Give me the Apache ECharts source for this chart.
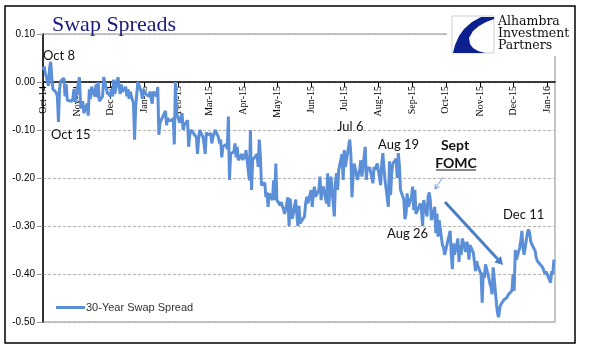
<!DOCTYPE html>
<html><head><meta charset="utf-8">
<script src="https://cdn.jsdelivr.net/npm/echarts@6/dist/echarts.min.js"></script>
<style>html,body{margin:0;padding:0;background:#fff}#c{width:598px;height:361px}</style>
</head><body><div id="c"></div>
<script>
const tickDates = ['2014-10-01','2014-11-01','2014-12-01','2015-01-01','2015-02-01','2015-03-01','2015-04-01','2015-05-01','2015-06-01','2015-07-01','2015-08-01','2015-09-01','2015-10-01','2015-11-01','2015-12-01','2016-01-01'];
const tickLabels = ['Oct-14','Nov-14','Dec-14','Jan-15','Feb-15','Mar-15','Apr-15','May-15','Jun-15','Jul-15','Aug-15','Sep-15','Oct-15','Nov-15','Dec-15','Jan-16'];
const yTicks = [-0.5,-0.4,-0.3,-0.2,-0.1,0,0.1];

const dates = [
'2014-10-01','2014-10-02','2014-10-03','2014-10-06','2014-10-07','2014-10-08','2014-10-09','2014-10-10','2014-10-13','2014-10-14','2014-10-15','2014-10-16','2014-10-17','2014-10-20','2014-10-21','2014-10-22','2014-10-23','2014-10-24','2014-10-27','2014-10-28','2014-10-29','2014-10-30','2014-10-31',
'2014-11-03','2014-11-04','2014-11-05','2014-11-06','2014-11-07','2014-11-10','2014-11-11','2014-11-12','2014-11-13','2014-11-14','2014-11-17','2014-11-18','2014-11-19','2014-11-20','2014-11-21','2014-11-24','2014-11-25','2014-11-26','2014-11-28',
'2014-12-01','2014-12-02','2014-12-03','2014-12-04','2014-12-05','2014-12-08','2014-12-09','2014-12-10','2014-12-11','2014-12-12','2014-12-15','2014-12-16','2014-12-17','2014-12-18','2014-12-19','2014-12-22','2014-12-23','2014-12-24','2014-12-26','2014-12-29','2014-12-30','2014-12-31',
'2015-01-02','2015-01-05','2015-01-06','2015-01-07','2015-01-08','2015-01-09','2015-01-12','2015-01-13','2015-01-14','2015-01-15','2015-01-16','2015-01-20','2015-01-21','2015-01-22','2015-01-23','2015-01-26','2015-01-27','2015-01-28','2015-01-29','2015-01-30',
'2015-02-02','2015-02-03','2015-02-04','2015-02-05','2015-02-06','2015-02-09','2015-02-10','2015-02-11','2015-02-12','2015-02-13','2015-02-17','2015-02-18','2015-02-19','2015-02-20','2015-02-23','2015-02-24','2015-02-25','2015-02-26','2015-02-27',
'2015-03-02','2015-03-03','2015-03-04','2015-03-05','2015-03-06','2015-03-09','2015-03-10','2015-03-11','2015-03-12','2015-03-13','2015-03-16','2015-03-17','2015-03-18','2015-03-19','2015-03-20','2015-03-23','2015-03-24','2015-03-25','2015-03-26','2015-03-27','2015-03-30','2015-03-31',
'2015-04-01','2015-04-02','2015-04-03','2015-04-06','2015-04-07','2015-04-08','2015-04-09','2015-04-10','2015-04-13','2015-04-14','2015-04-15','2015-04-16','2015-04-17','2015-04-20','2015-04-21','2015-04-22','2015-04-23','2015-04-24','2015-04-27','2015-04-28','2015-04-29','2015-04-30',
'2015-05-01','2015-05-04','2015-05-05','2015-05-06','2015-05-07','2015-05-08','2015-05-11','2015-05-12','2015-05-13','2015-05-14','2015-05-15','2015-05-18','2015-05-19','2015-05-20','2015-05-21','2015-05-22','2015-05-26','2015-05-27','2015-05-28','2015-05-29',
'2015-06-01','2015-06-02','2015-06-03','2015-06-04','2015-06-05','2015-06-08','2015-06-09','2015-06-10','2015-06-11','2015-06-12','2015-06-15','2015-06-16','2015-06-17','2015-06-18','2015-06-19','2015-06-22','2015-06-23','2015-06-24','2015-06-25','2015-06-26','2015-06-29','2015-06-30',
'2015-07-01','2015-07-02','2015-07-06','2015-07-07','2015-07-08','2015-07-09','2015-07-10','2015-07-13','2015-07-14','2015-07-15','2015-07-16','2015-07-17','2015-07-20','2015-07-21','2015-07-22','2015-07-23','2015-07-24','2015-07-27','2015-07-28','2015-07-29','2015-07-30','2015-07-31',
'2015-08-03','2015-08-04','2015-08-05','2015-08-06','2015-08-07','2015-08-10','2015-08-11','2015-08-12','2015-08-13','2015-08-14','2015-08-17','2015-08-18','2015-08-19','2015-08-20','2015-08-21','2015-08-24','2015-08-25','2015-08-26','2015-08-27','2015-08-28','2015-08-31',
'2015-09-01','2015-09-02','2015-09-03','2015-09-04','2015-09-08','2015-09-09','2015-09-10','2015-09-11','2015-09-14','2015-09-15','2015-09-16','2015-09-17','2015-09-18','2015-09-21','2015-09-22','2015-09-23','2015-09-24','2015-09-25','2015-09-28','2015-09-29','2015-09-30',
'2015-10-01','2015-10-02','2015-10-05','2015-10-06','2015-10-07','2015-10-08','2015-10-09','2015-10-12','2015-10-13','2015-10-14','2015-10-15','2015-10-16','2015-10-19','2015-10-20','2015-10-21','2015-10-22','2015-10-23','2015-10-26','2015-10-27','2015-10-28','2015-10-29','2015-10-30',
'2015-11-02','2015-11-03','2015-11-04','2015-11-05','2015-11-06','2015-11-09','2015-11-10','2015-11-11','2015-11-12','2015-11-13','2015-11-16','2015-11-17','2015-11-18','2015-11-19','2015-11-20','2015-11-23','2015-11-24','2015-11-25','2015-11-27','2015-11-30',
'2015-12-01','2015-12-02','2015-12-03','2015-12-04','2015-12-07','2015-12-08','2015-12-09','2015-12-10','2015-12-11','2015-12-14','2015-12-15','2015-12-16','2015-12-17','2015-12-18','2015-12-21','2015-12-22','2015-12-23','2015-12-24','2015-12-28','2015-12-29','2015-12-30','2015-12-31',
'2016-01-04','2016-01-05','2016-01-06','2016-01-07'
];

const spread30y = [
0.025,0.032,0.020,-0.008,0.030,0.042,0.008,-0.015,-0.022,-0.030,-0.083,-0.015,0.002,0.008,-0.030,-0.005,-0.038,-0.042,-0.040,-0.035,-0.015,-0.042,-0.030,
0.010,-0.045,-0.055,-0.040,-0.065,-0.045,-0.070,-0.015,-0.035,-0.010,-0.030,-0.005,-0.032,0.000,-0.040,-0.030,0.010,0.008,-0.020,
-0.030,-0.015,-0.030,0.005,-0.025,0.010,-0.010,-0.025,-0.005,-0.020,-0.010,-0.030,-0.015,-0.035,-0.020,-0.045,-0.120,-0.050,0.000,-0.020,-0.035,-0.015,
-0.025,-0.030,-0.020,-0.035,-0.045,-0.020,-0.030,-0.010,-0.110,-0.085,-0.080,-0.060,-0.090,-0.075,-0.080,-0.080,-0.075,-0.130,0.000,-0.065,
-0.085,-0.075,-0.065,-0.100,-0.090,-0.080,-0.135,-0.110,-0.100,-0.100,-0.115,-0.150,-0.120,-0.100,-0.115,-0.130,-0.150,-0.105,-0.110,
-0.107,-0.128,-0.115,-0.114,-0.100,-0.115,-0.128,-0.120,-0.157,-0.135,-0.130,-0.140,-0.072,-0.204,-0.150,-0.145,-0.128,-0.157,-0.135,-0.163,-0.150,-0.163,
-0.150,-0.160,-0.142,-0.205,-0.100,-0.225,-0.163,-0.160,-0.150,-0.177,-0.120,-0.155,-0.215,-0.210,-0.240,-0.230,-0.260,-0.232,-0.246,-0.205,-0.246,-0.170,
-0.246,-0.257,-0.250,-0.260,-0.265,-0.275,-0.240,-0.300,-0.243,-0.270,-0.285,-0.245,-0.275,-0.300,-0.258,-0.294,-0.280,-0.253,-0.239,-0.253,
-0.225,-0.260,-0.232,-0.218,-0.239,-0.225,-0.197,-0.246,-0.225,-0.218,-0.253,-0.190,-0.260,-0.225,-0.197,-0.280,-0.211,-0.190,-0.225,-0.183,-0.150,-0.204,
-0.142,-0.177,-0.120,-0.150,-0.240,-0.197,-0.170,-0.204,-0.190,-0.183,-0.163,-0.197,-0.135,-0.204,-0.177,-0.183,-0.177,-0.211,-0.177,-0.183,-0.175,-0.170,
-0.215,-0.170,-0.148,-0.180,-0.205,-0.260,-0.165,-0.235,-0.190,-0.170,-0.160,-0.200,-0.148,-0.175,-0.225,-0.245,-0.286,-0.275,-0.232,-0.260,-0.239,
-0.218,-0.267,-0.225,-0.275,-0.253,-0.267,-0.300,-0.246,-0.280,-0.240,-0.230,-0.246,-0.288,-0.260,-0.315,-0.274,-0.322,-0.288,-0.340,-0.345,-0.360,
-0.360,-0.340,-0.310,-0.360,-0.390,-0.336,-0.360,-0.326,-0.375,-0.340,-0.360,-0.326,-0.354,-0.333,-0.340,-0.370,-0.340,-0.356,-0.352,-0.394,-0.373,-0.383,
-0.400,-0.460,-0.397,-0.408,-0.380,-0.408,-0.420,-0.428,-0.442,-0.386,-0.463,-0.483,-0.490,-0.470,-0.463,-0.453,-0.456,-0.450,-0.442,-0.435,
-0.400,-0.435,-0.350,-0.370,-0.345,-0.330,-0.310,-0.345,-0.360,-0.314,-0.307,-0.314,-0.332,-0.338,-0.352,-0.366,-0.373,-0.373,-0.387,-0.394,-0.400,-0.395,
-0.418,-0.394,-0.400,-0.370
];

function ts(s){const p=s.split('-').map(Number);return Date.UTC(p[0],p[1]-1,p[2]);}
const tickTs = tickDates.map(ts);
const seriesData = dates.map((d,i)=>[ts(d), spread30y[i]]);

const chart = echarts.init(document.getElementById('c'), null, {renderer:'canvas'});
const annFont = 'Lato, "Open Sans", sans-serif';
function label(x,y,t,extra){return {type:'text',z:50,style:Object.assign({x:x,y:y,text:t,fill:'#111',font:'13px '+annFont,textVerticalAlign:'middle'},extra||{})};}

chart.setOption({
  animation:false,
  backgroundColor:'#fff',
  title:{text:'Swap Spreads',left:47,top:9,textStyle:{fontFamily:'"Liberation Serif", "DejaVu Serif", serif',fontSize:22,fontWeight:'normal',color:'#1a1a80'}},
  grid:{left:43,right:43,top:34,bottom:39,show:true,borderColor:'#8c8c8c',borderWidth:1,backgroundColor:'transparent'},
  legend:{show:true,left:51,top:297,itemWidth:29,itemHeight:3,icon:'rect',itemGap:0,
    textStyle:{fontFamily:'"Liberation Sans", Arial, sans-serif',fontSize:11,color:'#333',padding:[0,0,0,-4]},
    data:['30-Year Swap Spread']},
  xAxis:{type:'value',min:ts('2014-10-01'),max:ts('2016-01-08'),position:'bottom',offset:-240,
    axisLine:{show:true,onZero:false,lineStyle:{color:'#000',width:1.5}},
    axisTick:{show:true,length:5,lineStyle:{color:'#000',width:1},customValues:tickTs},
    axisLabel:{show:true,rotate:90,margin:4,fontFamily:'"Liberation Serif", serif',fontSize:10,color:'#000',
      customValues:tickTs,
      formatter:function(v){let best=0,bd=Infinity;tickTs.forEach((t,i)=>{const d=Math.abs(t-v);if(d<bd){bd=d;best=i;}});return tickLabels[best];}},
    splitLine:{show:false},minorTick:{show:false}},
  yAxis:{type:'value',min:yTicks[0],max:yTicks[yTicks.length-1],interval:0.1,
    axisLine:{show:true,onZero:false,lineStyle:{color:'#000',width:1.5}},
    axisTick:{show:true,length:6,lineStyle:{color:'#999'}},
    axisLabel:{margin:8,fontFamily:'"Liberation Sans", Arial, sans-serif',fontSize:10,color:'#000',formatter:v=>v.toFixed(2)},
    splitLine:{show:true,lineStyle:{color:'#b5b5b5',type:[3,2],width:1}}},
  series:[{name:'30-Year Swap Spread',type:'line',data:seriesData,showSymbol:false,symbol:'none',
    lineStyle:{color:'#5b8fd8',width:3},itemStyle:{color:'#5b8fd8'},z:3}],
  graphic:[
    {type:'rect',z:40,shape:{x:447,y:8,width:126,height:48},style:{fill:'#fff'}},
    {type:'rect',z:41,shape:{x:452,y:16,width:42,height:37},style:{fill:'#fff',stroke:'#cfcfcf',lineWidth:1}},
    {type:'polygon',z:42,shape:{points:[[481,17],[494,17],[494,19],[486,22],[479,26],[473,31],[469,38],[470,44],[473,48],[478,51],[485,53],[453,53],[455,45],[459,36],[464,29],[472,22]]},style:{fill:'#0c1f8e'}},
    {type:'text',z:42,style:{x:498,y:16,text:'Alhambra\nInvestment\nPartners',fill:'#111',font:'12.5px "DejaVu Serif", serif',lineHeight:12}},
    {type:'rect',z:60,shape:{x:5,y:6,width:570,height:337},style:{fill:'none',stroke:'#000',lineWidth:1.5}},
    label(43,56,'Oct 8'),
    label(51,135,'Oct 15'),
    label(337,127,'Jul 6'),
    label(378,145,'Aug 19'),
    label(387,234,'Aug 26'),
    label(503,215,'Dec 11'),
    label(455,145,'Sept',{font:'bold 14px '+annFont,textAlign:'center'}),
    label(456,163,'FOMC',{font:'bold 14px '+annFont,textAlign:'center'}),
    {type:'line',z:50,shape:{x1:436,y1:170,x2:476,y2:170},style:{stroke:'#111',lineWidth:1.2}},
    {type:'polyline',z:50,shape:{points:[[443,177],[435,189]]},style:{stroke:'#6f9ad8',lineWidth:1,fill:'none'}},
    {type:'polyline',z:50,shape:{points:[[439.5,186.8],[435,189],[435.3,184]]},style:{stroke:'#6f9ad8',lineWidth:1,fill:'none'}},
    {type:'line',z:50,shape:{x1:445,y1:202,x2:497.6,y2:259.1},style:{stroke:'#4a7fc8',lineWidth:3}},
    {type:'polygon',z:50,shape:{points:[[503,265],[494.2,262.3],[501,255.9]]},style:{fill:'#4a7fc8'}}
  ]
});
</script></body></html>
